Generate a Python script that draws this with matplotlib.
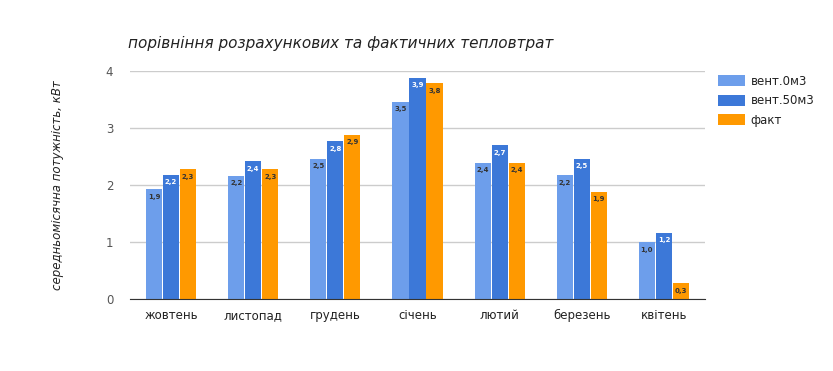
import matplotlib.pyplot as plt
import numpy as np

# data
months = ['жовтень', 'листопад', 'грудень', 'січень', 'лютий', 'березень', 'квітень']
vent0 = [1.93, 2.16, 2.46, 3.46, 2.39, 2.17, 1.0]
vent50 = [2.18, 2.42, 2.77, 3.88, 2.70, 2.46, 1.16]
fact = [2.28, 2.28, 2.88, 3.79, 2.39, 1.88, 0.28]
series_names = ['вент.0м3', 'вент.50м3', 'факт']

colors = ['#6d9eeb', '#3c78d8', '#ff9900']
label_colors = ['#333333', '#ffffff', '#333333']

fig = plt.figure(figsize=(8.33, 3.71), dpi=100)
ax = fig.add_axes([130 / 833, 1 - 299 / 371, 575 / 833, 228 / 371])

x = np.arange(len(months))
w = 0.195
gap = 0.012
for i, vals in enumerate([vent0, vent50, fact]):
    pos = x + (i - 1) * (w + gap)
    ax.bar(pos, vals, width=w, color=colors[i], label=series_names[i], zorder=3)
    for p, v in zip(pos, vals):
        ax.text(p, v - 0.08, ('%.1f' % v).replace('.', ','), ha='center', va='top',
                fontsize=5, fontweight='bold', color=label_colors[i], zorder=4)

ax.set_xlim(-0.5, len(months) - 0.5)
ax.set_ylim(0, 4)
ax.set_yticks([0, 1, 2, 3, 4])
ax.set_xticks(x)
ax.set_xticklabels(months)
ax.grid(axis='y', color='#cccccc', linewidth=1, zorder=0)
for s in ['top', 'right', 'left']:
    ax.spines[s].set_visible(False)
ax.spines['bottom'].set_color('#333333')
ax.spines['bottom'].set_zorder(5)
ax.tick_params(axis='both', length=0, labelsize=8.5, colors='#222222')
ax.tick_params(axis='y', pad=12, labelcolor='#555555')
ax.tick_params(axis='x', pad=7)

fig.text(128 / 833, 1 - 43 / 371, 'порівніння розрахункових та фактичних тепловтрат',
         fontsize=11, style='italic', color='#222222', va='center', ha='left')
fig.text(58 / 833, 1 - 185 / 371, 'середньомісячна потужність, кВт', rotation=90,
         fontsize=8.5, style='italic', color='#222222', va='center', ha='center')

ax.legend(loc='upper left', bbox_to_anchor=(577 / 575, 1.03), frameon=False,
          fontsize=8.5, handlelength=2.3, handleheight=1.1, labelspacing=0.55,
          handletextpad=0.5, labelcolor='#222222')

plt.savefig('out.png', dpi=100)
